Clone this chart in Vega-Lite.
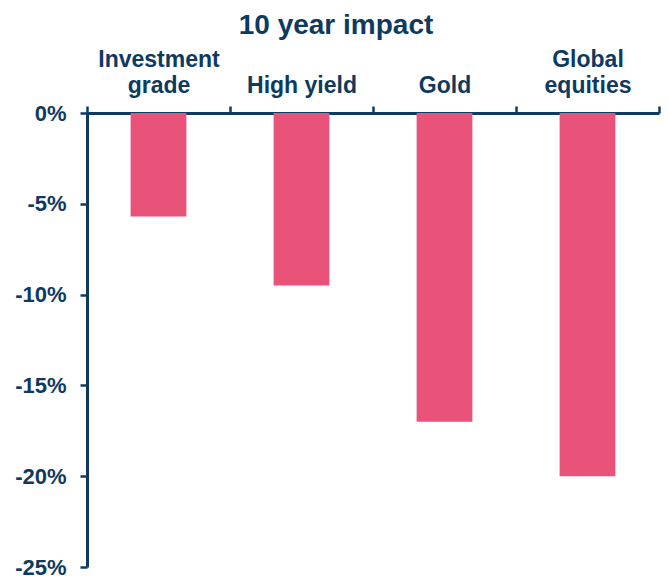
{
  "$schema": "https://vega.github.io/schema/vega-lite/v6.json",
  "width": 572,
  "height": 454,
  "autosize": {"type": "none"},
  "padding": {"left": 87, "top": 113, "right": 11, "bottom": 9},
  "background": "white",
  "title": {
    "text": "10 year impact",
    "font": "Liberation Sans",
    "fontSize": 28,
    "fontWeight": "bold",
    "color": "#0F3A5F",
    "anchor": "middle",
    "dx": -37,
    "offset": 8
  },
  "data": {
    "values": [
      {"category": "Investment grade", "label": "Investment|grade", "value": -5.7},
      {"category": "High yield", "label": "|High yield", "value": -9.5},
      {"category": "Gold", "label": "|Gold", "value": -17.0},
      {"category": "Global equities", "label": "Global|equities", "value": -20.0}
    ]
  },
  "config": {"view": {"stroke": null}},
  "mark": {"type": "bar", "color": "#E9537A", "width": {"band": 0.39}},
  "encoding": {
    "x": {
      "field": "label",
      "type": "nominal",
      "sort": null,
      "scale": {"paddingInner": 0, "paddingOuter": 0},
      "axis": {
        "orient": "top",
        "title": null,
        "labelAngle": 0,
        "labelExpr": "isValid(datum.value) ? split(datum.value, '|') : ''",
        "labelFont": "Liberation Sans",
        "labelFontSize": 23,
        "labelFontWeight": "bold",
        "labelColor": "#0F3A5F",
        "labelLineHeight": 26,
        "labelBaseline": "alphabetic",
        "labelPadding": 40,
        "domainColor": "#0F3A5F",
        "domainWidth": 3,
        "tickColor": "#0F3A5F",
        "tickWidth": 2.5,
        "tickSize": 7,
        "tickBand": "extent",
        "grid": false
      }
    },
    "y": {
      "field": "value",
      "type": "quantitative",
      "scale": {"domain": [-25, 0], "nice": false},
      "axis": {
        "title": null,
        "values": [0, -5, -10, -15, -20, -25],
        "labelExpr": "datum.value + '%'",
        "labelFont": "Liberation Sans",
        "labelFontSize": 22,
        "labelFontWeight": "bold",
        "labelColor": "#0F3A5F",
        "labelPadding": 14,
        "domainColor": "#0F3A5F",
        "domainWidth": 3,
        "tickColor": "#0F3A5F",
        "tickWidth": 2.5,
        "tickSize": 7,
        "grid": false,
        "labelFlush": false
      }
    }
  }
}
